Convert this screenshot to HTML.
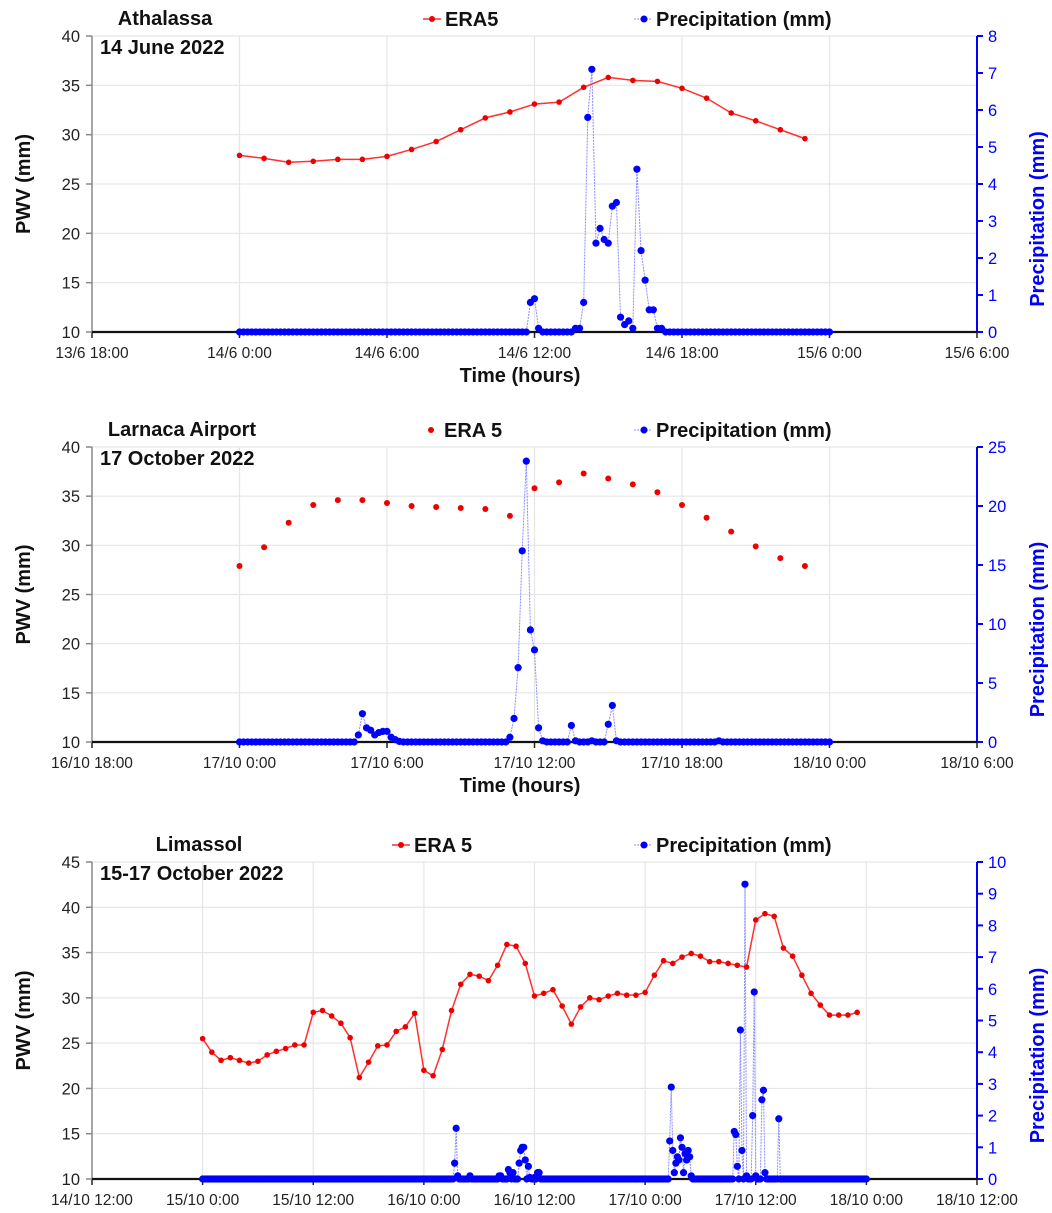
<!DOCTYPE html>
<html><head><meta charset="utf-8"><style>
body{margin:0;background:#fff}
svg text{font-family:"Liberation Sans",sans-serif}
</style></head><body>
<svg id="chart" width="1052" height="1208" viewBox="0 0 1052 1208" xmlns="http://www.w3.org/2000/svg"></svg>
<script>
// ===== Panel 1: Athalassa =====
const p1EraValues=[27.9,27.6,27.2,27.3,27.5,27.5,27.8,28.5,29.3,30.5,31.7,32.3,33.1,33.3,34.8,35.8,35.5,35.4,34.7,33.7,32.2,31.4,30.5,29.6];
const p1PrecipIdx=[71,72,73,82,83,84,85,86,87,88,89,90,91,92,93,94,95,96,97,98,99,100,101,102,103];
const p1PrecipVal=[0.8,0.9,0.1,0.1,0.1,0.8,5.8,7.1,2.4,2.8,2.5,2.4,3.4,3.5,0.4,0.2,0.3,0.1,4.4,2.2,1.4,0.6,0.6,0.1,0.1];
const p1XTicks=["13/6 18:00","14/6 0:00","14/6 6:00","14/6 12:00","14/6 18:00","15/6 0:00","15/6 6:00"];
const p1YTicks=[10,15,20,25,30,35,40];
const p1RTicks=[0,1,2,3,4,5,6,7,8];
// ===== Panel 2: Larnaca =====
const p2EraValues=[27.9,29.8,32.3,34.1,34.6,34.6,34.3,34.0,33.9,33.8,33.7,33.0,35.8,36.4,37.3,36.8,36.2,35.4,34.1,32.8,31.4,29.9,28.7,27.9];
const p2PrecipIdx=[29,30,31,32,33,34,35,36,37,38,39,66,67,68,69,70,71,72,73,74,81,82,86,90,91,92,117];
const p2PrecipVal=[0.6,2.4,1.2,1.0,0.6,0.8,0.9,0.9,0.4,0.2,0.05,0.4,2.0,6.3,16.2,23.8,9.5,7.8,1.2,0.1,1.4,0.1,0.1,1.5,3.1,0.1,0.1];
const p2XTicks=["16/10 18:00","17/10 0:00","17/10 6:00","17/10 12:00","17/10 18:00","18/10 0:00","18/10 6:00"];
const p2YTicks=[10,15,20,25,30,35,40];
const p2RTicks=[0,5,10,15,20,25];
// ===== Panel 3: Limassol =====
const p3EraValues=[25.5,24.0,23.1,23.4,23.1,22.8,23.0,23.7,24.1,24.4,24.8,24.8,28.4,28.6,28.0,27.2,25.6,21.2,22.9,24.7,24.8,26.3,26.8,28.3,22.0,21.4,24.3,28.6,31.5,32.6,32.4,31.9,33.6,35.9,35.7,33.8,30.2,30.5,30.9,29.1,27.1,29.0,30.0,29.8,30.2,30.5,30.3,30.3,30.6,32.5,34.1,33.8,34.5,34.9,34.6,34.0,34.0,33.8,33.6,33.4,38.6,39.3,39.0,35.5,34.6,32.5,30.5,29.2,28.1,28.1,28.1,28.4];
const p3PrecipIdx=[164,165,166,174,193,194,199,200,202,206,207,208,209,210,212,213,216,218,219,304,305,306,307,308,309,310,311,312,313,314,315,316,317,318,346,347,348,350,351,353,354,358,359,360,364,365,366,375];
const p3PrecipVal=[0.5,1.6,0.1,0.1,0.1,0.1,0.3,0.2,0.2,0.5,0.9,1.0,1.0,0.6,0.4,0.05,0.05,0.2,0.2,1.2,2.9,0.9,0.2,0.5,0.7,0.6,1.3,1.0,0.2,0.8,0.6,0.9,0.7,0.1,1.5,1.4,0.4,4.7,0.9,9.3,0.1,2.0,5.9,0.1,2.5,2.8,0.2,1.9];
const p3XTicks=["14/10 12:00","15/10 0:00","15/10 12:00","16/10 0:00","16/10 12:00","17/10 0:00","17/10 12:00","18/10 0:00","18/10 12:00"];
const p3YTicks=[10,15,20,25,30,35,40,45];
const p3RTicks=[0,1,2,3,4,5,6,7,8,9,10];

const NS="http://www.w3.org/2000/svg";
const svg=document.getElementById('chart');
function mk(tag,attrs,parent,txt){const e=document.createElementNS(NS,tag);for(const k in attrs)e.setAttribute(k,attrs[k]);if(txt!==undefined)e.textContent=txt;(parent||svg).appendChild(e);return e;}

function panel(c){
  const g=mk('g',{});
  
  
  const x0=92,x1=977;
  const xs=h=>x0+(h-c.hStart)/(c.hEnd-c.hStart)*(x1-x0);
  const ymin=c.yTicks[0],ymax=c.yTicks[c.yTicks.length-1];
  const ys=v=>c.yBot-(v-ymin)/(ymax-ymin)*(c.yBot-c.yTop);
  const rmax=c.rTicks[c.rTicks.length-1];
  const rs=v=>c.yBot-v/rmax*(c.yBot-c.yTop);
  c.yTicks.forEach(v=>{if(v>ymin){const l=mk('line',{x1:x0,x2:x1,y1:ys(v),y2:ys(v),stroke:'#e6e6e6','stroke-width':1.2},g);}});
  const nx=c.xTicks.length;
  c.xTicks.forEach((t,i)=>{const h=c.hStart+i*(c.hEnd-c.hStart)/(nx-1);const x=xs(h);
    if(i>0&&i<nx-1){const l=mk('line',{x1:x,x2:x,y1:c.yTop,y2:c.yBot,stroke:'#e6e6e6','stroke-width':1.2},g);}
    mk('line',{x1:x,x2:x,y1:c.yBot,y2:c.yBot+6,stroke:'#222','stroke-width':1.5},g);
    const tx=mk('text',{x:x,y:c.yBot+26,'font-size':15.5,'text-anchor':'middle',fill:'#222'},g,t);
    
  });
  mk('line',{x1:x0,x2:x0,y1:c.yTop,y2:c.yBot,stroke:'#888','stroke-width':1.5},g);
  c.yTicks.forEach(v=>{mk('line',{x1:x0-6,x2:x0,y1:ys(v),y2:ys(v),stroke:'#888','stroke-width':1.5},g);
    const t=mk('text',{x:x0-12,y:ys(v)+6,'font-size':16.5,'text-anchor':'end',fill:'#222'},g,v);
    });
  mk('line',{x1:x1,x2:x1,y1:c.yTop,y2:c.yBot,stroke:'#0000ff','stroke-width':2},g);
  c.rTicks.forEach(v=>{mk('line',{x1:x1,x2:x1+6,y1:rs(v),y2:rs(v),stroke:'#0000ff','stroke-width':2},g);
    const t=mk('text',{x:x1+11,y:rs(v)+6,'font-size':16.5,fill:'#0000ff'},g,v);
    });
  mk('line',{x1:x0,x2:x1,y1:c.yBot,y2:c.yBot,stroke:'#111','stroke-width':2.2},g);
  const full=new Array(c.nPrecip).fill(0);
  c.pIdx.forEach((k,i)=>{full[k]=c.pVal[i];});
  const pts=full.map((v,k)=>[xs(k/6),rs(v)]);
  const pl=mk('polyline',{points:pts.map(p=>p.join(',')).join(' '),fill:'none',stroke:'#8c8cff','stroke-width':1,'stroke-dasharray':'2,1'},g);
  
  pts.forEach(p=>{const d=mk('circle',{cx:p[0],cy:p[1],r:3.6,fill:'#0000ff'},g);
    });
  const ep=c.era.map((v,h)=>[xs(h),ys(v)]);
  if(c.eraLine){const l=mk('polyline',{points:ep.map(p=>p.join(',')).join(' '),fill:'none',stroke:'#ff3030','stroke-width':1.5},g);
    }
  ep.forEach(p=>{const d=mk('circle',{cx:p[0],cy:p[1],r:c.eraLine?2.8:3,fill:'#ee0000'},g);
    });
  const t1=mk('text',{x:c.t1x,y:c.yTop-11,'font-size':20,'font-weight':'bold','text-anchor':'middle',fill:'#111'},g,c.title1);
  
  const t2=mk('text',{x:100,y:c.yTop+18,'font-size':20,'font-weight':'bold',fill:'#111'},g,c.title2);
  
  const ly=c.yTop-17;
  const le=mk('g',{},g);
  if(c.eraLine)mk('line',{x1:c.lex-20,x2:c.lex-2,y1:ly,y2:ly,stroke:'#ff3030','stroke-width':1.5},le);
  mk('circle',{cx:c.lex-11,cy:ly,r:3,fill:'#ee0000'},le);
  mk('text',{x:c.lex+2,y:ly+7,'font-size':20,'font-weight':'bold',fill:'#111'},le,c.eraLabel);
  const lp=mk('g',{},g);
  mk('line',{x1:634,x2:652,y1:ly,y2:ly,stroke:'#8c8cff','stroke-width':1,'stroke-dasharray':'2,1'},lp);
  mk('circle',{cx:644,cy:ly,r:3.5,fill:'#0000ff'},lp);
  mk('text',{x:656,y:ly+7,'font-size':20,'font-weight':'bold',fill:'#111'},lp,'Precipitation (mm)');
  const ya=mk('text',{x:0,y:0,'font-size':20,'font-weight':'bold','text-anchor':'middle',fill:'#111',transform:`translate(30,${(c.yTop+c.yBot)/2}) rotate(-90)`},g,'PWV (mm)');
  
  const ra=mk('text',{x:0,y:0,'font-size':20,'font-weight':'bold','text-anchor':'middle',fill:'#0000ff',transform:`translate(1044,${(c.yTop+c.yBot)/2+35}) rotate(-90)`},g,'Precipitation (mm)');
  
  const xa=mk('text',{x:520,y:c.yBot+50,'font-size':20,'font-weight':'bold','text-anchor':'middle',fill:'#111'},g,'Time (hours)');
  
}

panel({name:'athalassa-panel',hStart:-6,hEnd:30,yTop:36,yBot:332,yTicks:p1YTicks,rTicks:p1RTicks,xTicks:p1XTicks,
  era:p1EraValues,eraLine:true,pIdx:p1PrecipIdx,pVal:p1PrecipVal,nPrecip:145,
  title1:'Athalassa',t1x:165,title2:'14 June 2022',lex:443,eraLabel:'ERA5'});
panel({name:'larnaca-panel',hStart:-6,hEnd:30,yTop:447,yBot:742,yTicks:p2YTicks,rTicks:p2RTicks,xTicks:p2XTicks,
  era:p2EraValues,eraLine:false,pIdx:p2PrecipIdx,pVal:p2PrecipVal,nPrecip:145,
  title1:'Larnaca Airport',t1x:182,title2:'17 October 2022',lex:442,eraLabel:'ERA 5'});
panel({name:'limassol-panel',hStart:-12,hEnd:84,yTop:862,yBot:1179,yTicks:p3YTicks,rTicks:p3RTicks,xTicks:p3XTicks,
  era:p3EraValues,eraLine:true,pIdx:p3PrecipIdx,pVal:p3PrecipVal,nPrecip:433,
  title1:'Limassol',t1x:199,title2:'15-17 October 2022',lex:412,eraLabel:'ERA 5'});
</script>
</body></html>
